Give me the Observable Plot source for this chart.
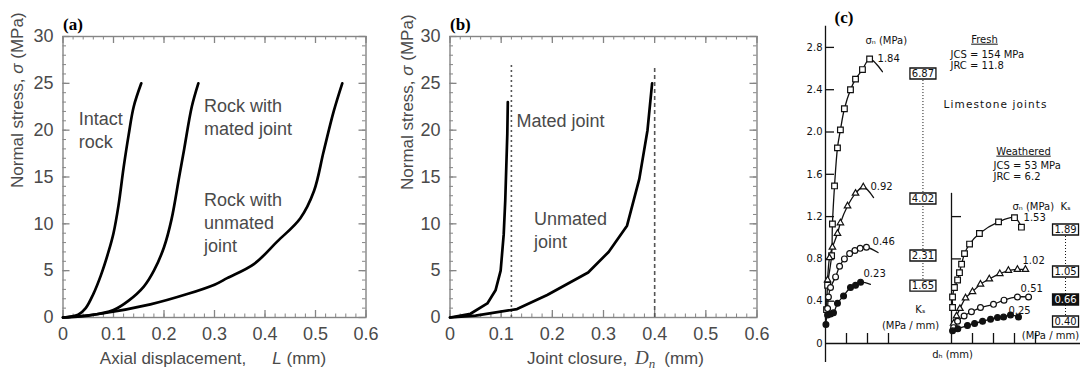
<!DOCTYPE html>
<html><head><meta charset="utf-8">
<script src="https://cdn.jsdelivr.net/npm/d3@7"></script>
<script src="https://cdn.jsdelivr.net/npm/@observablehq/plot@0.6"></script>
<style>
body{margin:0;background:#fff}
#wrap{position:relative;width:1080px;height:384px;overflow:hidden;background:#fff}
#wrap svg{position:absolute;left:0;top:0}
</style></head><body><div id="wrap"></div>
<script>
// ---------------- DATA ----------------
// Panels (a) and (b): normal stress (MPa) vs displacement / closure (mm)
const xTicksAB = [0, 0.1, 0.2, 0.3, 0.4, 0.5, 0.6];
const yTicksAB = [0, 5, 10, 15, 20, 25, 30];
const xMinorAB = d3.range(0, 0.6001, 0.02);
const yMinorAB = d3.range(0, 30.001, 1);

const intactRock = [[0,0],[0.03,0.3],[0.045,1],[0.06,2.5],[0.075,4.5],[0.09,7],[0.1,9],[0.11,12],[0.12,16],[0.13,19.5],[0.14,22.5],[0.155,25]];
const rockMatedJoint = [[0,0],[0.05,0.2],[0.1,0.8],[0.13,1.8],[0.16,3.3],[0.18,5],[0.2,7.5],[0.215,10.5],[0.23,15],[0.24,18],[0.255,22.5],[0.268,25]];
const rockUnmatedJoint = [[0,0],[0.074,0.4],[0.173,1.4],[0.246,2.5],[0.3,3.5],[0.325,4.2],[0.378,5.7],[0.424,8.1],[0.47,10.6],[0.497,13.5],[0.516,17.7],[0.536,22],[0.553,25]];

const matedJoint = [[0,0],[0.04,0.4],[0.073,1.5],[0.089,2.9],[0.099,5],[0.105,8.9],[0.108,12.5],[0.112,19.6],[0.113,23]];
const unmatedJoint = [[0,0],[0.05,0.2],[0.131,0.9],[0.19,2.4],[0.27,4.8],[0.31,7],[0.346,9.8],[0.37,14.8],[0.386,20],[0.395,25]];
const maxClosure = [0.12, 0.4];

// Panel (c): limestone joints, shear stress (MPa) vs shear displacement d_h
const cYTicks = [0, 0.4, 0.8, 1.2, 1.6, 2.0, 2.4, 2.8];
const cYTicksWeathered = [0.8, 1.2];
const cXTicksFresh = [1, 2, 3];
const cXTicksWeathered = [1, 2, 3, 4];

const fresh184 = [[0.05,0.32],[0.1,0.55],[0.29,0.83],[0.33,1.13],[0.43,1.49],[0.57,1.85],[0.71,2.02],[0.9,2.22],[1.19,2.40],[1.43,2.50],[1.76,2.59],[2.1,2.69]];
const fresh184Tail = [2.71, 2.57];
const fresh092 = [[0.1,0.6],[0.19,0.81],[0.33,0.91],[0.57,1.04],[0.71,1.14],[1.05,1.30],[1.43,1.42],[1.8,1.48]];
const fresh092Tail = [2.29, 1.38];
const fresh046 = [[0.1,0.33],[0.14,0.44],[0.24,0.53],[0.48,0.63],[0.67,0.73],[0.9,0.80],[1.15,0.85],[1.4,0.88],[1.65,0.9],[1.95,0.91]];
const fresh046Tail = [2.5, 0.86];
const fresh023 = [[0.02,0.18],[0.1,0.27],[0.24,0.28],[0.38,0.29],[0.57,0.38],[0.86,0.45],[1.19,0.53],[1.43,0.55],[1.67,0.58]];
const fresh023Tail = [2.14, 0.56];

const weath153 = [[0.05,0.34],[0.05,0.44],[0.14,0.53],[0.29,0.6],[0.38,0.67],[0.48,0.75],[0.62,0.85],[0.86,0.94],[1.33,1.04],[2.24,1.15],[3.0,1.19],[3.33,1.10]];
const weath102 = [[0.1,0.19],[0.24,0.26],[0.4,0.33],[0.67,0.43],[1.0,0.49],[1.38,0.56],[1.8,0.61],[2.3,0.66],[2.71,0.69],[3.14,0.70],[3.52,0.70]];
const weath051 = [[0.1,0.15],[0.29,0.21],[0.6,0.26],[0.95,0.3],[1.38,0.34],[2.0,0.37],[2.5,0.41],[3.14,0.44],[3.67,0.44]];
const weath025 = [[0.05,0.12],[0.3,0.14],[0.76,0.17],[1.1,0.19],[1.48,0.21],[1.86,0.23],[2.19,0.245],[2.48,0.25],[2.81,0.27],[3.19,0.25]];

const ksFresh = [6.87, 4.02, 2.31, 1.65];
const ksWeathered = [1.89, 1.05, 0.66, 0.40];

// ---------------- LAYOUT ----------------
const wrap = document.getElementById("wrap");
const NS = "http://www.w3.org/2000/svg";
const SANS = "'Liberation Sans', Arial, Helvetica, sans-serif";
const SERIF = "'Liberation Serif', 'Times New Roman', serif";
const LETTER = "'DejaVu Sans', sans-serif";

function place(svg) {
  svg.style.background = "transparent";
  svg.style.position = "absolute";
  svg.style.left = "0"; svg.style.top = "0";
  wrap.appendChild(svg);
  return svg;
}
function richText(svg, full, parts) {
  for (const t of svg.querySelectorAll("text")) {
    if (t.textContent !== full) continue;
    t.textContent = "";
    for (const p of parts) {
      const ts = document.createElementNS(NS, "tspan");
      ts.textContent = p.t;
      for (const [k, v] of Object.entries(p.a || {})) ts.setAttribute(k, v);
      t.appendChild(ts);
    }
  }
}
function styleText(svg, full, attrs) {
  for (const t of svg.querySelectorAll("text")) {
    if (t.textContent === full) for (const [k, v] of Object.entries(attrs)) t.style[k] = v;
  }
}

function stressPanel({left, right, curves, curve, extra = [], notes, tag, xTitle, xTitleDx, yTitle, yTitleDx, yTitleDy}) {
  const W = 1080, H = 384, top = 36, bottom = 317;
  const fw = right - left, fh = bottom - top;
  const gray = "#858585", ink = "#4a4a4a";
  const minor = 3.5, major = 7;
  const xMaj = xTicksAB, yMaj = yTicksAB;
  return Plot.plot({
    width: W, height: H,
    marginLeft: left, marginRight: W - right, marginTop: top, marginBottom: H - bottom,
    x: {domain: [0, 0.6], axis: null},
    y: {domain: [0, 30], axis: null},
    marks: [
      Plot.tickX(xMinorAB, {x: d => d, insetTop: fh - minor, stroke: gray}),
      Plot.tickX(xMinorAB, {x: d => d, insetBottom: fh - minor, stroke: gray}),
      Plot.tickX(xMaj, {x: d => d, insetTop: fh - major, stroke: gray, strokeWidth: 1.3}),
      Plot.tickX(xMaj, {x: d => d, insetBottom: fh - major, stroke: gray, strokeWidth: 1.3}),
      Plot.tickY(yMinorAB, {y: d => d, insetRight: fw - minor, stroke: gray}),
      Plot.tickY(yMinorAB, {y: d => d, insetLeft: fw - minor, stroke: gray}),
      Plot.tickY(yMaj, {y: d => d, insetRight: fw - major, stroke: gray, strokeWidth: 1.3}),
      Plot.tickY(yMaj, {y: d => d, insetLeft: fw - major, stroke: gray, strokeWidth: 1.3}),
      Plot.frame({stroke: gray, strokeWidth: 1.4}),
      ...extra,
      ...curves.map(c => Plot.line(c, {x: d => d[0], y: d => d[1], stroke: "#000", strokeWidth: 2.7, curve, strokeLinejoin: "round"})),
      Plot.text(xMaj, {x: d => d, frameAnchor: "bottom", dy: 22, text: d => String(d), fontSize: 18, fontFamily: SANS, fill: ink}),
      Plot.text(yMaj, {y: d => d, frameAnchor: "left", dx: -9.5, text: d => String(d), textAnchor: "end", fontSize: 18, fontFamily: SANS, fill: ink}),
      Plot.text([xTitle], {frameAnchor: "bottom", dy: 46.5, dx: xTitleDx, fontSize: 17, fontFamily: SANS, fill: ink}),
      Plot.text([yTitle], {frameAnchor: "left", dx: yTitleDx, dy: yTitleDy, rotate: -90, fontSize: 17, fontFamily: SANS, fill: ink}),
      Plot.text([tag], {frameAnchor: "top-left", dx: 0, dy: -19, textAnchor: "start", fontSize: 17, fontFamily: SERIF, fontWeight: "bold", fill: "#000"}),
      ...notes.map(n => Plot.text([n.text], {x: n.x, y: n.y, textAnchor: "start", lineAnchor: "top", lineHeight: 1.27, fontSize: 18, fontFamily: SANS, fill: ink}))
    ]
  });
}

// Panel (a)
const svgA = place(stressPanel({
  left: 62.5, right: 365.5,
  curves: [intactRock, rockMatedJoint, rockUnmatedJoint], curve: "catmull-rom",
  notes: [
    {text: "Intact\nrock", x: 0.031, y: 22.3},
    {text: "Rock with\nmated joint", x: 0.279, y: 23.7},
    {text: "Rock with\nunmated\njoint", x: 0.279, y: 13.6}
  ],
  tag: "(a)",
  xTitle: "Axial displacement, L (mm)", xTitleDx: -1.5,
  yTitle: "Normal stress, σ (MPa)", yTitleDx: -45.5, yTitleDy: 11
}));
richText(svgA, "Axial displacement, L (mm)", [
  {t: "Axial displacement,"}, {t: "L", a: {"font-style": "italic", dx: "26"}}, {t: " (mm)"}
]);
richText(svgA, "Normal stress, σ (MPa)", [
  {t: "Normal stress, "}, {t: "σ", a: {"font-style": "italic"}}, {t: " (MPa)"}
]);

// Panel (b)
const svgB = place(stressPanel({
  left: 449.5, right: 756.5,
  curves: [matedJoint, unmatedJoint], curve: "linear",
  extra: [
    Plot.ruleX([maxClosure[0]], {x: d => d, y1: 0, y2: 26.9, stroke: "#555", strokeWidth: 1.6, strokeDasharray: "2,3"}),
    Plot.ruleX([maxClosure[1]], {x: d => d, y1: 0, y2: 26.9, stroke: "#555", strokeWidth: 1.6, strokeDasharray: "4,3"})
  ],
  notes: [
    {text: "Mated joint", x: 0.13, y: 22.1},
    {text: "Unmated\njoint", x: 0.164, y: 11.6}
  ],
  tag: "(b)",
  xTitle: "Joint closure, Dn (mm)", xTitleDx: 12,
  yTitle: "Normal stress, σ (MPa)", yTitleDx: -42.5, yTitleDy: 13
}));
richText(svgB, "Joint closure, Dn (mm)", [
  {t: "Joint closure, "},
  {t: "D", a: {"font-family": SERIF, "font-style": "italic", "font-size": "19", dx: "3"}},
  {t: "n", a: {"font-family": SERIF, "font-style": "italic", "font-size": "13", dy: "4"}},
  {t: "(mm)", a: {dy: "-4", dx: "9"}}
]);
richText(svgB, "Normal stress, σ (MPa)", [
  {t: "Normal stress, "}, {t: "σ", a: {"font-style": "italic"}}, {t: " (MPa)"}
]);

// Panel (c)
const weatheredOrigin = 6;          // second sub-plot origin along d_h
const ksFreshAt = {x: 4.64, y: [2.553, 1.371, 0.832, 0.548]};
const ksWeathAt = {x: 11.43, y: [1.078, 0.681, 0.416, 0.208]};
const boxSymbol = {draw(ctx) { ctx.rect(-13, -5.5, 26, 11); }};
const fx = d => d[0], fy = d => d[1], wx = d => d[0] + weatheredOrigin;
const ink = "#111";
const lineOpt = (x) => ({x, y: fy, stroke: ink, strokeWidth: 1.3, curve: "catmull-rom"});
const dotOpt = (x, symbol, filled) => ({x, y: fy, symbol, r: symbol === "square" ? 3.2 : symbol === "triangle" ? 2.4 : 2.9,
  fill: filled ? ink : "white", stroke: ink, strokeWidth: 1.2});
const cNotes = [
  {t: "σₙ (MPa)", x: 1.9, y: 2.86, a: "start"},
  {t: "1.84", x: 2.48, y: 2.69, a: "start"},
  {t: "0.92", x: 2.14, y: 1.485, a: "start"},
  {t: "0.46", x: 2.24, y: 0.965, a: "start"},
  {t: "0.23", x: 1.81, y: 0.66, a: "start"},
  {t: "Kₛ", x: 4.52, y: 0.32, a: "middle"},
  {t: "(MPa / mm)", x: 4.05, y: 0.17, a: "middle"},
  {t: "Fresh", x: 7.57, y: 2.875, a: "middle"},
  {t: "JCS = 154 MPa", x: 5.95, y: 2.733, a: "start"},
  {t: "JRC = 11.8", x: 5.95, y: 2.629, a: "start"},
  {t: "Limestone joints", x: 8.1, y: 2.26, a: "middle"},
  {t: "Weathered", x: 9.43, y: 1.816, a: "middle"},
  {t: "JCS = 53 MPa", x: 8.0, y: 1.683, a: "start"},
  {t: "JRC = 6.2", x: 8.0, y: 1.579, a: "start"},
  {t: "σₙ (MPa)\u00a0\u00a0Kₛ", x: 8.9, y: 1.296, a: "start"},
  {t: "1.53", x: 9.43, y: 1.19, a: "start"},
  {t: "1.02", x: 9.38, y: 0.785, a: "start"},
  {t: "0.51", x: 9.29, y: 0.52, a: "start"},
  {t: "0.25", x: 8.71, y: 0.312, a: "start"},
  {t: "(MPa / mm)", x: 10.71, y: 0.076, a: "middle"},
  {t: "dₕ (mm)", x: 6.05, y: -0.104, a: "middle"}
];
const svgC = place(Plot.plot({
  width: 1080, height: 384,
  marginLeft: 780, marginRight: 0, marginTop: 0, marginBottom: 0,
  x: {domain: [-45 / 21, 255 / 21], axis: null},
  y: {domain: [-41 / 105.75, 343 / 105.75], axis: null},
  marks: [
    // axes
    Plot.ruleX([0], {y1: -0.18, y2: 3.0, stroke: ink, strokeWidth: 1.3}),
    Plot.ruleX([weatheredOrigin], {y1: 0, y2: 1.42, stroke: ink, strokeWidth: 1.3}),
    Plot.ruleY([0], {x1: 0, x2: 12.2, stroke: ink, strokeWidth: 1.3}),
    Plot.tickY(cYTicks.filter(d => d > 0), {y: d => d, insetLeft: 45, insetRight: 246, stroke: ink, strokeWidth: 1.3}),
    Plot.tickY(cYTicksWeathered, {y: d => d, insetLeft: 171, insetRight: 119, stroke: ink, strokeWidth: 1.3}),
    Plot.tickX(cXTicksFresh, {x: d => d, insetTop: 333, insetBottom: 41, stroke: ink, strokeWidth: 1.3}),
    Plot.tickX(cXTicksWeathered, {x: d => d + weatheredOrigin, insetTop: 333, insetBottom: 41, stroke: ink, strokeWidth: 1.3}),
    Plot.text(cYTicks, {x: 0, y: d => d, dx: -3, text: d => d === 0 ? "0" : d.toFixed(1), textAnchor: "end", fontSize: 10, fontFamily: LETTER, fill: ink}),
    // Ks dotted leaders and boxes
    Plot.ruleX([ksFreshAt.x], {y1: ksFreshAt.y[3], y2: ksFreshAt.y[0], stroke: ink, strokeWidth: 1, strokeDasharray: "1,2"}),
    Plot.ruleX([ksWeathAt.x], {y1: ksWeathAt.y[3], y2: ksWeathAt.y[0], stroke: ink, strokeWidth: 1, strokeDasharray: "1,2"}),
    Plot.dot(ksFresh, {x: ksFreshAt.x, y: (d, i) => ksFreshAt.y[i], symbol: boxSymbol, fill: "white", stroke: ink, strokeWidth: 1.3}),
    Plot.text(ksFresh, {x: ksFreshAt.x, y: (d, i) => ksFreshAt.y[i], text: d => d.toFixed(2), fontSize: 10, fontFamily: LETTER, fill: ink}),
    Plot.dot(ksWeathered, {x: ksWeathAt.x, y: (d, i) => ksWeathAt.y[i], symbol: boxSymbol, fill: (d, i) => i === 2 ? ink : "white", stroke: ink, strokeWidth: 1.3}),
    Plot.text(ksWeathered, {x: ksWeathAt.x, y: (d, i) => ksWeathAt.y[i], text: d => d.toFixed(2), fontSize: 10, fontFamily: LETTER, fill: (d, i) => i === 2 ? "white" : ink}),
    // fresh joints
    Plot.line([...fresh184, fresh184Tail], lineOpt(fx)),
    Plot.line([...fresh092, fresh092Tail], lineOpt(fx)),
    Plot.line([...fresh046, fresh046Tail], lineOpt(fx)),
    Plot.line([...fresh023, fresh023Tail], lineOpt(fx)),
    Plot.dot(fresh184, dotOpt(fx, "square", false)),
    Plot.dot(fresh092, dotOpt(fx, "triangle", false)),
    Plot.dot(fresh046, dotOpt(fx, "circle", false)),
    Plot.dot(fresh023, dotOpt(fx, "circle", true)),
    // weathered joints
    Plot.line(weath153, lineOpt(wx)),
    Plot.line(weath102, lineOpt(wx)),
    Plot.line(weath051, lineOpt(wx)),
    Plot.line(weath025, lineOpt(wx)),
    Plot.dot(weath153, dotOpt(wx, "square", false)),
    Plot.dot(weath102, dotOpt(wx, "triangle", false)),
    Plot.dot(weath051, dotOpt(wx, "circle", false)),
    Plot.dot(weath025, dotOpt(wx, "circle", true)),
    // annotations
    ...cNotes.map(n => Plot.text([n.t], {x: n.x, y: n.y, textAnchor: n.a, fontSize: 10, fontFamily: LETTER, fill: ink})),
    Plot.text(["(c)"], {x: 0.43, y: 3.078, textAnchor: "start", fontSize: 17, fontFamily: SERIF, fontWeight: "bold", fill: "#000"})
  ]
}));
styleText(svgC, "Fresh", {textDecoration: "underline"});
styleText(svgC, "Weathered", {textDecoration: "underline"});
styleText(svgC, "Limestone joints", {letterSpacing: "1.1px", fontSize: "10.5px"});
</script></body></html>
